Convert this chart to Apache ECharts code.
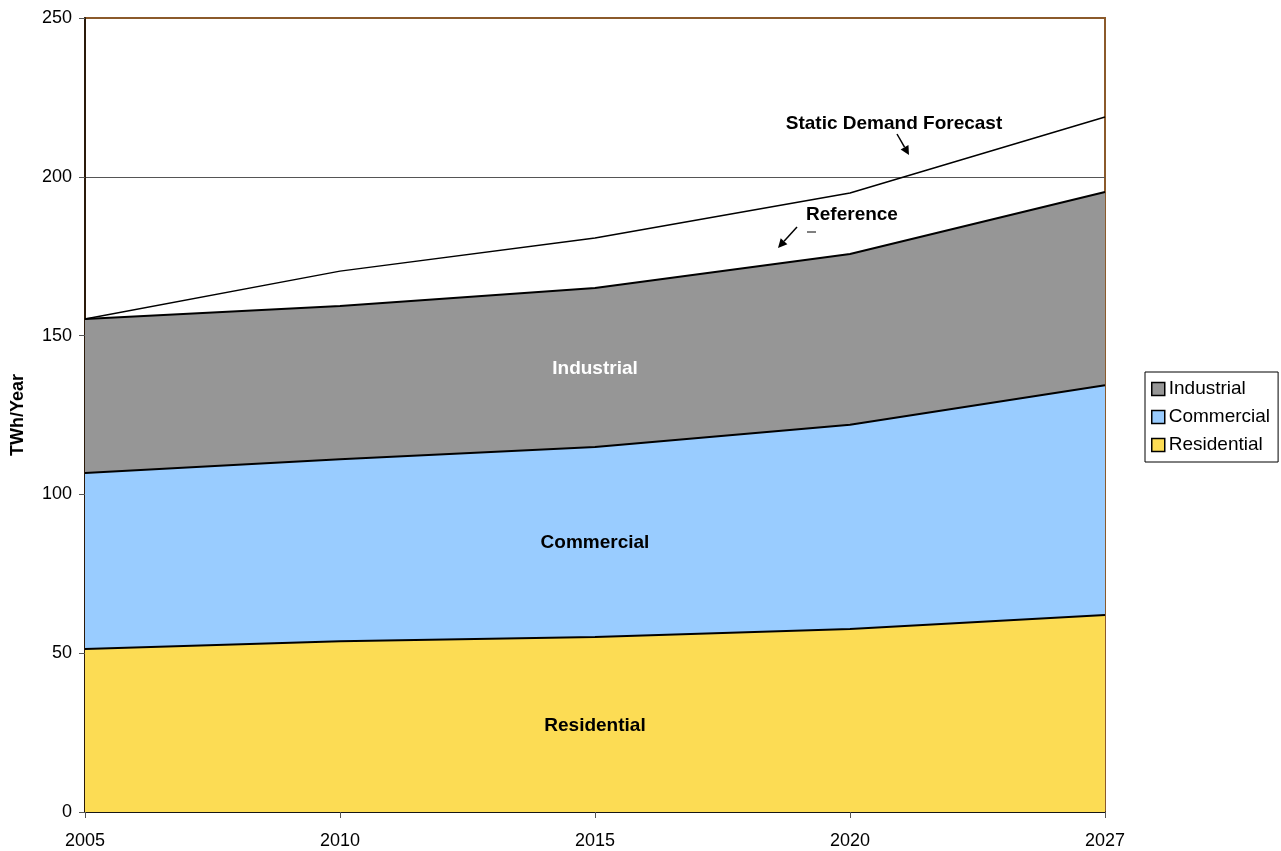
<!DOCTYPE html>
<html>
<head>
<meta charset="utf-8">
<script src="https://cdn.jsdelivr.net/npm/echarts@6/dist/echarts.min.js"></script>
<style>
  html, body { margin: 0; padding: 0; background: #fff; }
  #chart { width: 1281px; height: 851px; }
</style>
</head>
<body>
<div id="chart"></div>
<script>
// Electricity demand by sector, TWh per year
const years = ['2005', '2010', '2015', '2020', '2027'];
const residential = [51.3, 53.8, 55.1, 57.6, 62.0];
const commercial = [55.4, 57.3, 59.8, 64.3, 72.4];
const industrial = [48.5, 48.2, 50.1, 53.8, 60.8];
const staticDemand = [155.2, 170.3, 180.7, 194.9, 218.8];
const yTicks = [0, 50, 100, 150, 200, 250];

const FONT = '"Liberation Sans", Arial, sans-serif';
const BORDER = '#8B5A2B';
const chart = echarts.init(document.getElementById('chart'));

function band(name, values, color) {
  return {
    name: name,
    type: 'line',
    stack: 'total',
    data: values,
    symbol: 'none',
    lineStyle: { color: '#000', width: 2 },
    itemStyle: { color: color, borderColor: '#000', borderWidth: 1.5 },
    areaStyle: { color: color, opacity: 1 },
    z: 2
  };
}

chart.setOption({
  animation: false,
  grid: { left: 85, right: 176, top: 18, bottom: 39, show: true, borderColor: BORDER, borderWidth: 2, backgroundColor: 'transparent' },
  legend: {
    orient: 'vertical',
    left: 1145, top: 372,
    padding: [7, 8, 7, 6],
    borderColor: '#000', borderWidth: 1,
    itemWidth: 13, itemHeight: 13, itemGap: 8,
    icon: 'rect',
    data: ['Industrial', 'Commercial', 'Residential'],
    itemStyle: { borderColor: '#000', borderWidth: 1.5 },
    textStyle: { fontFamily: FONT, fontSize: 19, lineHeight: 20, color: '#000', padding: [0, 0, 0, -1] }
  },
  xAxis: {
    type: 'category',
    data: years,
    boundaryGap: false,
    axisLine: { show: true, lineStyle: { color: '#000', width: 1.5 } },
    axisTick: { show: true, length: 6, lineStyle: { color: '#555' } },
    axisLabel: { fontFamily: FONT, fontSize: 18, color: '#000', margin: 20 },
    splitLine: { show: false }
  },
  yAxis: {
    type: 'value',
    min: 0, max: 250, interval: 50,
    name: 'TWh/Year',
    nameLocation: 'middle',
    nameGap: 58,
    nameTextStyle: { fontFamily: FONT, fontSize: 18, fontWeight: 'bold', color: '#000' },
    axisLine: { show: true, lineStyle: { color: '#2b1a0a', width: 2 } },
    axisTick: { show: true, length: 6, lineStyle: { color: '#555' } },
    axisLabel: {
      fontFamily: FONT, fontSize: 18, color: '#000', margin: 13,
      formatter: v => (yTicks.includes(v) ? String(v) : '')
    },
    // the line at the top edge keeps the frame colour
    splitLine: { show: true, lineStyle: { color: ['#555', '#555', '#555', '#555', '#555', BORDER], width: 1 } }
  },
  series: [
    band('Residential', residential, '#FCDC54'),
    band('Commercial', commercial, '#99CCFF'),
    band('Industrial', industrial, '#969696'),
    {
      name: 'Static Demand Forecast',
      type: 'line',
      data: staticDemand,
      symbol: 'none',
      lineStyle: { color: '#000', width: 1.5 },
      z: 3
    }
  ]
});

// Band names centred in each layer at 2015, plus the annotation arrows
const mid = 2;
const cum1 = residential[mid];
const cum2 = cum1 + commercial[mid];
const cum3 = cum2 + industrial[mid];
function pt(v) { return chart.convertToPixel({ gridIndex: 0 }, [mid, v]); }
function bandLabel(text, v, color) {
  const p = pt(v);
  return {
    type: 'text', x: p[0], y: p[1], z: 10,
    style: { text: text, fill: color, font: 'bold 19px ' + FONT, align: 'center', verticalAlign: 'middle' }
  };
}
function arrow(x1, y1, x2, y2) {
  const ang = Math.atan2(y2 - y1, x2 - x1);
  const L = 9, W = 4.5;
  const bx = x2 - L * Math.cos(ang), by = y2 - L * Math.sin(ang);
  const nx = -Math.sin(ang) * W, ny = Math.cos(ang) * W;
  return [
    { type: 'line', z: 10, shape: { x1: x1, y1: y1, x2: bx, y2: by }, style: { stroke: '#000', lineWidth: 1.5 } },
    { type: 'polygon', z: 10, shape: { points: [[x2, y2], [bx + nx, by + ny], [bx - nx, by - ny]] }, style: { fill: '#000' } }
  ];
}

chart.setOption({
  graphic: [
    bandLabel('Residential', cum1 / 2 - 0.3, '#000'),
    bandLabel('Commercial', (cum1 + cum2) / 2 - 0.2, '#000'),
    bandLabel('Industrial', (cum2 + cum3) / 2 - 0.3, '#fff'),
    {
      type: 'text', x: 894, y: 124, z: 10,
      style: { text: 'Static Demand Forecast', fill: '#000', font: 'bold 19px ' + FONT, align: 'center', verticalAlign: 'middle' }
    },
    {
      type: 'text', x: 852, y: 215, z: 10,
      style: { text: 'Reference', fill: '#000', font: 'bold 19px ' + FONT, align: 'center', verticalAlign: 'middle' }
    },
    { type: 'line', z: 10, shape: { x1: 807, y1: 232, x2: 816, y2: 232 }, style: { stroke: '#000', lineWidth: 1 } },
    ...arrow(897, 134, 909, 155),
    ...arrow(797, 227, 778, 248)
  ]
});
</script>
</body>
</html>
